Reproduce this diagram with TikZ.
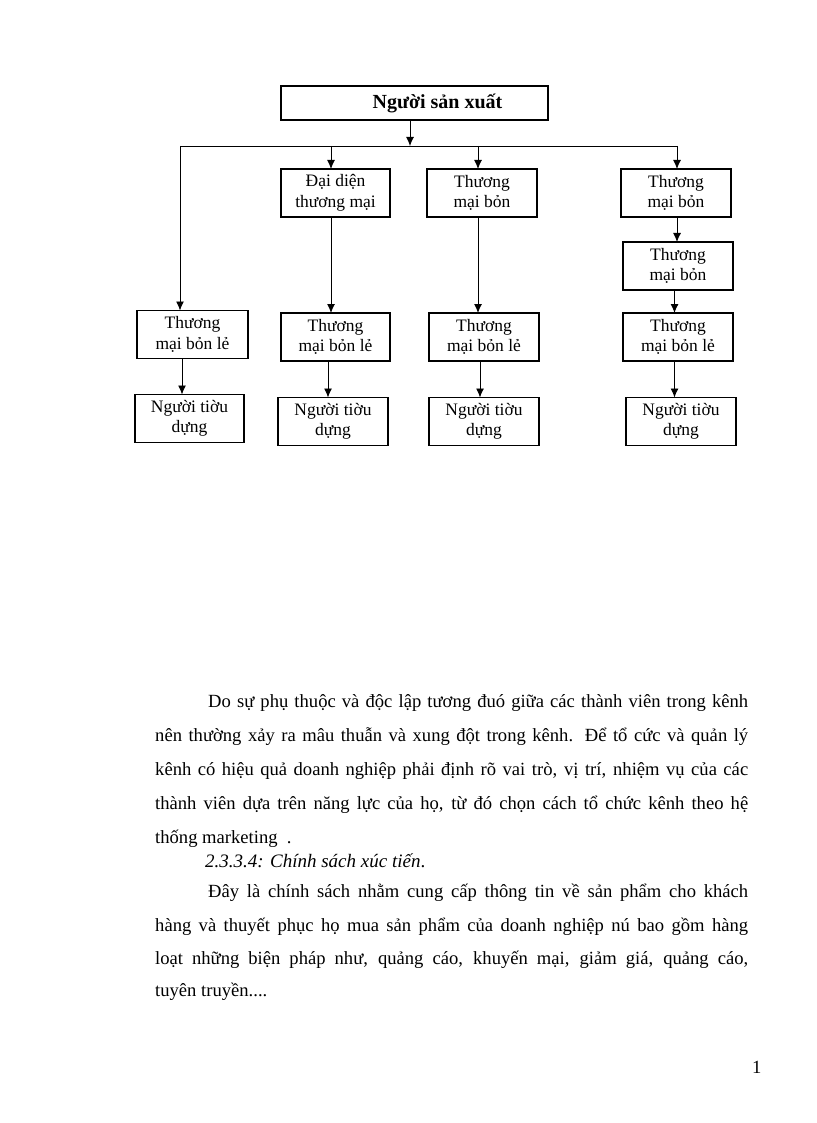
\documentclass[tikz,border=0pt]{standalone}
\usepackage{fontspec}
\setmainfont{Liberation Serif}
\usetikzlibrary{arrows.meta}
\begin{document}
\begin{tikzpicture}[x=1pt,y=-1pt,
  box/.style={draw, line width=1.1pt, inner sep=0pt, outer sep=0pt, minimum height=48pt,
    align=center, font=\fontsize{17.5}{20.5}\selectfont},
  arr/.style={-{Latex[length=9pt,width=8pt]}, line width=0.9pt},
  ln/.style={line width=0.9pt},
  body/.style={anchor=base west, inner sep=0pt, font=\fontsize{18.6}{23}\selectfont}]
\useasboundingbox (0,0) rectangle (816,1123);

% boxes
\node[box, minimum width=267pt, minimum height=34pt, font=\bfseries\fontsize{20}{22}\selectfont]
  (top) at (414.5,103) {\hspace*{46pt}Người sản xuất};
\node[box, minimum width=109pt] (d1) at (335.5,193) {Đại diện\\thương mại};
\node[box, minimum width=110pt] (t3) at (482,193) {Thương\\mại bỏn};
\node[box, minimum width=110pt] (t4a) at (676,193) {Thương\\mại bỏn};
\node[box, minimum width=110pt] (t4b) at (678,266) {Thương\\mại bỏn};
\node[box, minimum width=111pt] (r1) at (192.5,334.5) {Thương\\mại bỏn lẻ};
\node[box, minimum width=109pt] (r2) at (335.5,337) {Thương\\mại bỏn lẻ};
\node[box, minimum width=110pt] (r3) at (484,337) {Thương\\mại bỏn lẻ};
\node[box, minimum width=110pt] (r4) at (678,337) {Thương\\mại bỏn lẻ};
\node[box, minimum width=109pt] (c1) at (189.5,418.5) {Người tiờu\\dựng};
\node[box, minimum width=110pt] (c2) at (333,421.5) {Người tiờu\\dựng};
\node[box, minimum width=110pt] (c3) at (484,421.5) {Người tiờu\\dựng};
\node[box, minimum width=110pt] (c4) at (681,421.5) {Người tiờu\\dựng};

% bus and drop coordinates
\coordinate (j0) at (410,146);
\coordinate (b1) at (180,146);
\coordinate (b2) at (331,146);
\coordinate (b3) at (478,146);
\coordinate (b4) at (677,146);
\coordinate (a1) at (182,0);
\coordinate (a2) at (328,0);
\coordinate (a3) at (480,0);
\coordinate (a4) at (674.5,0);

\draw[arr] (top.south -| j0) -- (j0);
\draw[ln] (b1) -- (b4);
\draw[arr] (b1) -- (b1 |- r1.north);
\draw[arr] (b2) -- (b2 |- d1.north);
\draw[arr] (b3) -- (b3 |- t3.north);
\draw[arr] (b4) -- (b4 |- t4a.north);

\draw[arr] (d1.south -| b2) -- (r2.north -| b2);
\draw[arr] (t3.south -| b3) -- (r3.north -| b3);
\draw[arr] (t4a.south -| b4) -- (t4b.north -| b4);
\draw[arr] (t4b.south -| a4) -- (r4.north -| a4);

\draw[arr] (r1.south -| a1) -- (c1.north -| a1);
\draw[arr] (r2.south -| a2) -- (c2.north -| a2);
\draw[arr] (r3.south -| a3) -- (c3.north -| a3);
\draw[arr] (r4.south -| a4) -- (c4.north -| a4);

% body text
\node[body] (l1) at (208,707) {\makebox[540pt][s]{Do sự phụ thuộc và độc lập tương đuó giữa các thành viên trong kênh}};
\node[body] (l2) at (155,741) {\makebox[593pt][s]{nên thường xảy ra mâu thuẫn và xung đột trong kênh. Để tổ cức và quản lý}};
\node[body] (l3) at (155,775) {\makebox[593pt][s]{kênh có hiệu quả doanh nghiệp phải định rõ vai trò, vị trí, nhiệm vụ của các}};
\node[body] (l4) at (155,809) {\makebox[593pt][s]{thành viên dựa trên năng lực của họ, từ đó chọn cách tổ chức kênh theo hệ}};
\node[body] (l5) at (155,843) {thống marketing~~.};
\node[body, font=\fontsize{19}{22}\selectfont] (l6) at (205,867) {\textit{2.3.3.4: Chính sách xúc tiến}.};
\node[body] (l7) at (208,897) {\makebox[540pt][s]{Đây là chính sách nhằm cung cấp thông tin về sản phẩm cho khách}};
\node[body] (l8) at (155,931) {\makebox[593pt][s]{hàng và thuyết phục họ mua sản phẩm của doanh nghiệp nú bao gồm hàng}};
\node[body] (l9) at (155,964) {\makebox[593pt][s]{loạt những biện pháp như, quảng cáo, khuyến mại, giảm giá, quảng cáo,}};
\node[body] (l10) at (155,996) {tuyên truyền....};
\node[body] (pg) at (752,1073) {1};
\end{tikzpicture}
\end{document}
